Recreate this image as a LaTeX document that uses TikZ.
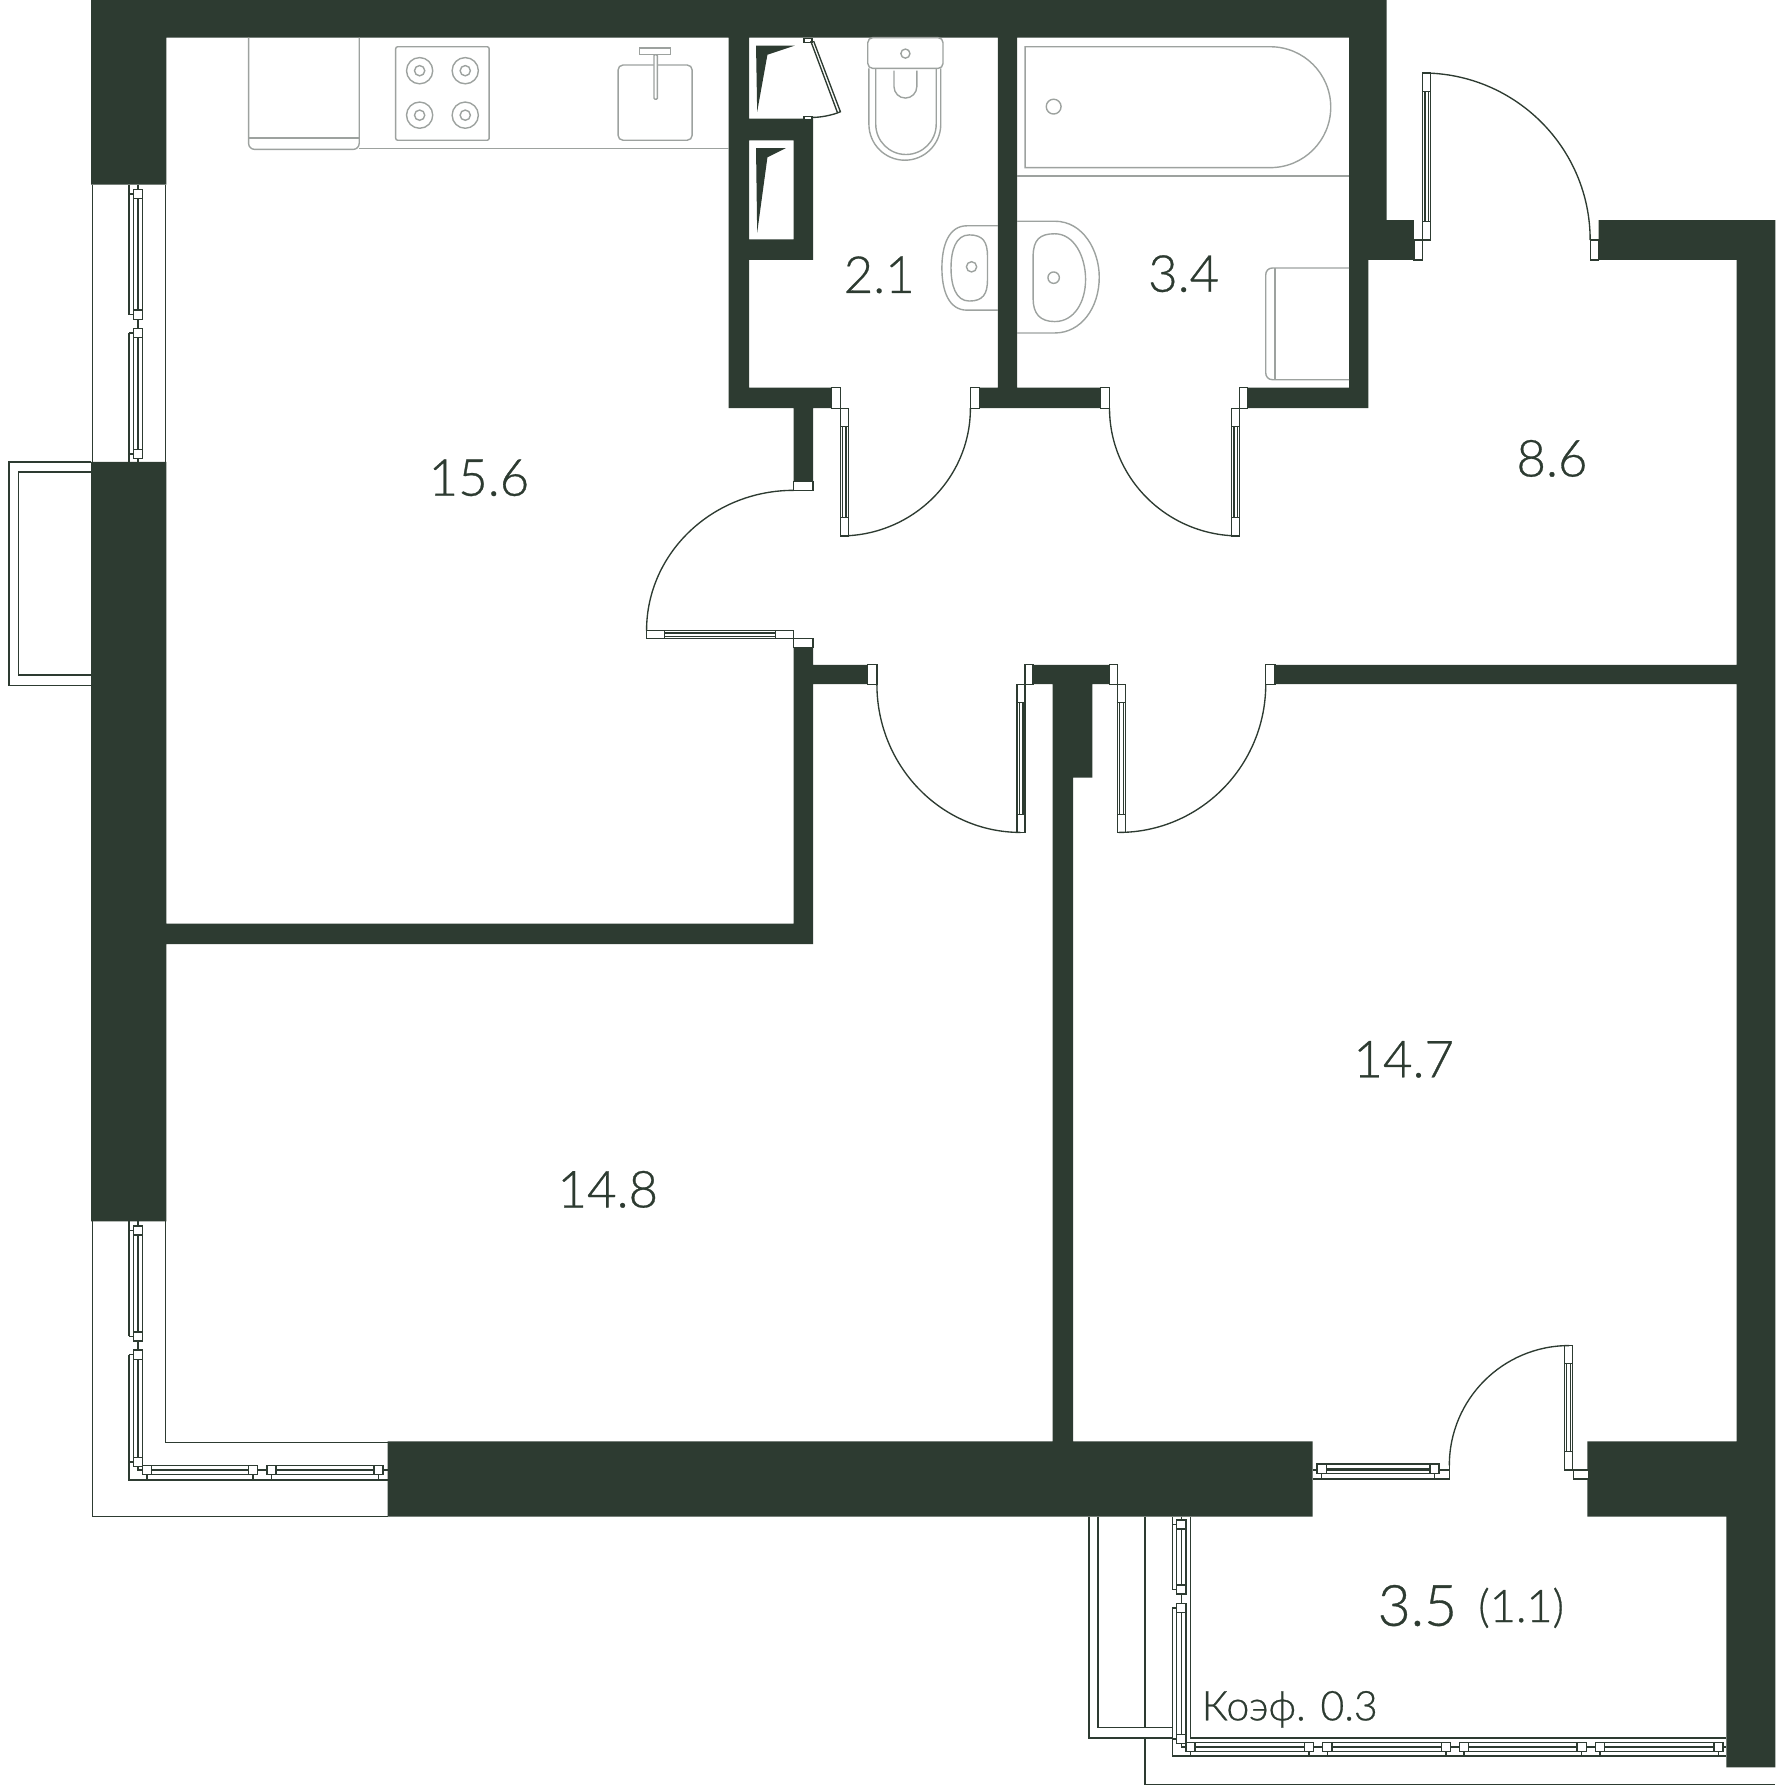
\documentclass[tikz,border=0pt]{standalone}
\usepackage{fontspec}
\setmainfont{Lato Light}[RawFeature={embolden=0.6}]
\usepackage{xcolor}
\definecolor{wallgreen}{HTML}{2D3B31}
\definecolor{fixgrey}{HTML}{9DA29F}
\tikzset{
  wall/.style={fill=wallgreen},
  thinline/.style={draw=wallgreen, line width=1.35pt},
  jamb/.style={thinline, fill=white},
  fixture/.style={draw=fixgrey, line width=1.4pt},
  room/.style={text=wallgreen, inner sep=0pt, font=\fontsize{51}{51}\selectfont},
  small/.style={text=wallgreen, inner sep=0pt, font=\fontsize{41}{41}\selectfont}
}
% window sash, upright: left x, top y, bottom y
\newcommand{\sashV}[3]{
  \draw[thinline] (#1,#2) rectangle (#1+8,#3) (#1+4,#2+8) -- (#1+4,#3-8);
  \draw[jamb] (#1,#2) rectangle (#1+8,#2+8);
  \draw[jamb] (#1,#3-8) rectangle (#1+8,#3);
  \draw[thinline] (#1-4,#2+4) -- (#1,#2+4) (#1-4,#3-4) -- (#1,#3-4);
}
% window sash, lying: left x, right x, top y
\newcommand{\sashH}[3]{
  \draw[thinline] (#1,#3) rectangle (#2,#3+8) (#1+8,#3+4) -- (#2-8,#3+4);
  \draw[jamb] (#1,#3) rectangle (#1+8,#3+8);
  \draw[jamb] (#2-8,#3) rectangle (#2,#3+8);
  \draw[thinline] (#1+4,#3+8) -- (#1+4,#3+12) (#2-4,#3+8) -- (#2-4,#3+12);
}
% door leaves
\newcommand{\leafV}[3]{
  \draw[jamb] (#1,#2) rectangle (#1+7,#3);
  \draw[thinline] (#1,#2+16) -- (#1+7,#2+16) (#1,#3-16) -- (#1+7,#3-16)
    (#1+2,#2+16) -- (#1+2,#3-16) (#1+5,#2+16) -- (#1+5,#3-16);
}
\newcommand{\leafH}[3]{
  \draw[jamb] (#1,#3) rectangle (#2,#3+7);
  \draw[thinline] (#1+16,#3) -- (#1+16,#3+7) (#2-16,#3) -- (#2-16,#3+7)
    (#1+16,#3+2) -- (#2-16,#3+2) (#1+16,#3+5) -- (#2-16,#3+5);
}
\begin{document}
\begin{tikzpicture}[x=1.14pt,y=-1.14pt]
  \useasboundingbox (0,0) rectangle (1557,1568);

  % walls
  \fill[wall] (80,0) rectangle (1216,33)
    (80,33) rectangle (146,162)
    (80,405) rectangle (146,1071)
    (146,810) rectangle (713,828)
    (696,568) rectangle (713,810)
    (713,583) rectangle (761,600)
    (906,583) rectangle (973,600)
    (923,600) rectangle (941,1265)
    (923,600) rectangle (958,682)
    (1118,583) rectangle (1523,600)
    (1523,193) rectangle (1557,1264)
    (1402,193) rectangle (1557,228)
    (340,1264) rectangle (1151,1330)
    (1392,1264) rectangle (1557,1330)
    (1514,1330) rectangle (1557,1550)
    (1183,33) rectangle (1216,193)
    (1183,193) rectangle (1200,358)
    (1200,193) rectangle (1240,228)
    (639,33) rectangle (657,358)
    (657,340) rectangle (729,358)
    (859,340) rectangle (965,358)
    (1094,340) rectangle (1183,358)
    (875,33) rectangle (892,340)
    (657,104) rectangle (713,123)
    (696,104) rectangle (713,228)
    (657,210) rectangle (713,228)
    (696,358) rectangle (713,422);
  \fill[wall] (663,40) -- (697,40) -- (673,48) -- (664,98) -- cycle;
  \fill[wall] (663,130) -- (689,130) -- (673,138) -- (664,204) -- cycle;

  % kitchen
  \draw[fixture, rounded corners=6] (218,33) -- (218,131) -- (315,131) -- (315,33);
  \draw[fixture] (218,121) -- (315,121);
  \draw[fixture] (315,130) -- (639,130);
  \draw[fixture, rounded corners=2] (347,41) rectangle (429,123);
  \foreach \x in {368,408} \foreach \y in {62,101} {
    \draw[fixture] (\x,\y) circle (11.5) (\x,\y) circle (4.5);
  }
  \draw[fixture, rounded corners=5] (542,57) rectangle (607,123);
  \draw[fixture] (561,42) rectangle (588,48);
  \draw[fixture, fill=white, rounded corners=1] (573.5,48) rectangle (576.5,87);

  % wc
  \draw[fixture] (762,60) -- (762,109) arc[start angle=180,end angle=0,radius=31.5] -- (825,60);
  \draw[fixture] (768,60) -- (768,109) arc[start angle=180,end angle=0,radius=26.5] -- (821,60);
  \draw[fixture] (784,62) -- (784,76) arc[start angle=180,end angle=0,radius=10] -- (804,62);
  \draw[fixture, fill=white, rounded corners=5] (761,33) rectangle (827,60);
  \draw[fixture] (794,47) circle (4);
  \draw[fixture] (875,198) -- (848,198) .. controls (832,198) and (826,215) .. (826,235)
    .. controls (826,255) and (832,272) .. (848,272) -- (875,272);
  \draw[fixture] (850,206) .. controls (862,206) and (866,212) .. (866,225) -- (866,245)
    .. controls (866,258) and (862,264) .. (850,264) .. controls (838,264) and (834,250) .. (834,235)
    .. controls (834,220) and (838,206) .. (850,206) -- cycle;
  \draw[fixture] (852,234) circle (4.5);

  % bathroom
  \draw[fixture] (899,41) -- (1114,41) arc[start angle=-90,end angle=90,radius=53] -- (899,147) -- cycle;
  \draw[fixture] (924,93.5) circle (6.5);
  \draw[fixture] (892,154.5) -- (1183,154.5);
  \draw[fixture] (892,194) -- (925,194) .. controls (950,194) and (964,220) .. (964,243)
    .. controls (964,270) and (948,292) .. (925,292) -- (892,292);
  \draw[fixture] (906,225) .. controls (906,210) and (912,205) .. (925,205)
    .. controls (942,205) and (952,225) .. (952,245) .. controls (952,265) and (942,282) .. (925,282)
    .. controls (912,282) and (906,275) .. (906,262) -- cycle;
  \draw[fixture] (924,243.5) circle (5);
  \draw[fixture] (1183,235) -- (1116,235) .. controls (1112,235) and (1110,238) .. (1110,241) -- (1110,327)
    .. controls (1110,330) and (1112,333) .. (1116,333) -- (1183,333);
  \draw[fixture] (1118,235) -- (1118,333);

  % shaft door
  \draw[jamb] (705,33.5) rectangle (712,37) (705,102) rectangle (712,105);
  \draw[thinline] (711,36) -- (734.5,99) (713.5,36) -- (737,98)
    .. controls (730,101) and (720,103) .. (712,103);

  % jambs
  \path[jamb] (729,340) rectangle (737,358)
    (851,340) rectangle (859,358)
    (965,340) rectangle (973,358)
    (1087,340) rectangle (1094,358)
    (696,422) rectangle (713,430)
    (696,560) rectangle (713,568)
    (761,583) rectangle (769,600)
    (899,583) rectangle (906,600)
    (973,583) rectangle (980,600)
    (1110,583) rectangle (1118,600)
    (1394.5,210.5) rectangle (1402,228)
    (1240,210.5) rectangle (1247.5,228);

  % doors
  \leafV{737}{358}{470}
  \draw[thinline] (851,358) arc[start angle=0,end angle=90,x radius=114,y radius=112];
  \leafV{1080}{358}{470}
  \draw[thinline] (973,358) arc[start angle=180,end angle=90,x radius=114,y radius=112];
  \leafH{567}{696}{553}
  \draw[thinline] (696,430) arc[start angle=270,end angle=180,x radius=129,y radius=123];
  \leafV{892}{600}{730}
  \draw[thinline] (769,600) arc[start angle=180,end angle=90,x radius=126,y radius=130];
  \leafV{980}{600}{730}
  \draw[thinline] (1110,600) arc[start angle=0,end angle=90,x radius=129,y radius=130];
  \leafV{1247.5}{64}{210.5}
  \draw[thinline] (1394.5,210.5) arc[start angle=0,end angle=-90,x radius=147,y radius=146.5];
  \leafV{1372}{1180}{1289}
  \draw[thinline] (1271,1285) arc[start angle=180,end angle=270,x radius=105,y radius=105];
  \draw[jamb] (1380,1289) rectangle (1393,1297);

  % left windows
  \draw[thinline] (81,162) -- (81,405) (145,162) -- (145,405);
  \draw[thinline] (113,162) -- (113,276) (113,292) -- (113,405);
  \draw[thinline] (121,162) -- (121,405);
  \sashV{117}{166}{280}
  \sashV{117}{288}{402}

  % balcony left
  \draw[thinline] (80,405) -- (8,405) -- (8,601) -- (80,601);
  \draw[thinline] (80,414) -- (16,414) -- (16,592) -- (80,592);

  % lower left windows
  \draw[thinline] (81,1071) -- (81,1330) -- (340,1330);
  \draw[thinline] (145,1071) -- (145,1265) -- (340,1265);
  \draw[thinline] (113,1071) -- (113,1172) (113,1188) -- (113,1298) -- (340,1298);
  \draw[thinline] (121,1071) -- (121,1289) -- (340,1289);
  \sashV{117}{1075}{1176}
  \sashV{117}{1184}{1286}
  \sashH{125}{226}{1285}
  \sashH{234}{336}{1285}

  % loggia
  \draw[thinline] (1151,1297) -- (1271,1297) -- (1271,1285);
  \draw[thinline] (1151,1289) -- (1271,1289);
  \sashH{1155}{1262}{1284}
  \draw[thinline] (955,1330) -- (955,1524) -- (1028,1524);
  \draw[thinline] (963,1330) -- (963,1515) -- (1028,1515);
  \draw[thinline] (1004,1330) -- (1004,1515) (1004,1524) -- (1004,1565) -- (1557,1565);
  \draw[thinline] (1028,1330) -- (1028,1394) (1028,1410) -- (1028,1540) -- (1514,1540);
  \draw[thinline] (1044,1330) -- (1044,1524) -- (1514,1524);
  \draw[thinline] (1036,1330) -- (1036,1532) -- (1514,1532);
  \sashV{1032}{1333}{1398}
  \sashV{1032}{1406}{1529}
  \sashH{1040}{1152}{1528}
  \sashH{1160}{1272}{1528}
  \sashH{1280}{1391}{1528}
  \sashH{1399}{1511}{1528}

  % rooms
  \node[room] (kitchen) at (420,419) {15.6};
  \node[room] (wc) at (771,241) {2.1};
  \node[room] (bath) at (1038,240) {3.4};
  \node[room] (hall) at (1361,402) {8.6};
  \node[room] (bedroomright) at (1231,929) {14.7};
  \node[room] (bedroomleft) at (533,1043) {14.8};
  \node[room, font=\fontsize{57}{57}\selectfont] (loggia) at (1243,1408) {3.5};
  \node[small, font=\fontsize{45}{45}\selectfont] (loggiareduced) at (1334,1410) {(1.1)};
  \node[small] (coef) at (1131,1499) {Коэф. 0.3};
\end{tikzpicture}
\end{document}
